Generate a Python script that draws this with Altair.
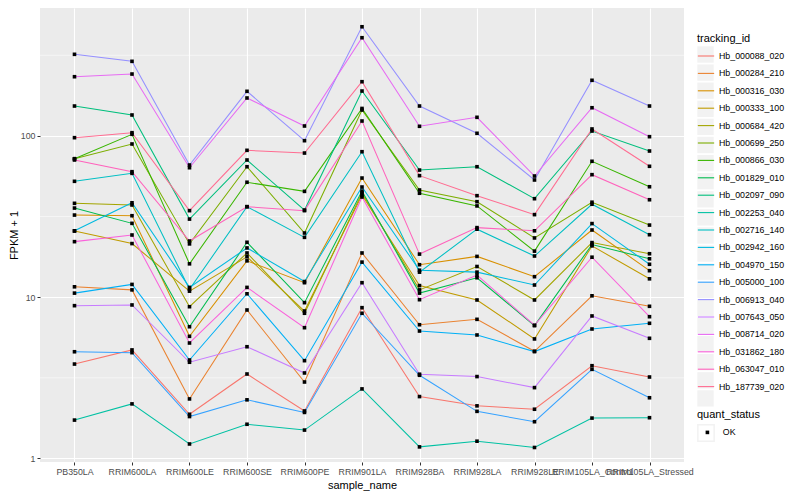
import altair as alt
import pandas as pd

samples = ["PB350LA", "RRIM600LA", "RRIM600LE", "RRIM600SE", "RRIM600PE",
           "RRIM901LA", "RRIM928BA", "RRIM928LA", "RRIM928LE",
           "RRIM105LA_Control", "RRIM105LA_Stressed"]

ids = ["Hb_000088_020", "Hb_000284_210", "Hb_000316_030", "Hb_000333_100",
       "Hb_000684_420", "Hb_000699_250", "Hb_000866_030", "Hb_001829_010",
       "Hb_002097_090", "Hb_002253_040", "Hb_002716_140", "Hb_002942_160",
       "Hb_004970_150", "Hb_005000_100", "Hb_006913_040", "Hb_007643_050",
       "Hb_008714_020", "Hb_031862_180", "Hb_063047_010", "Hb_187739_020"]

colors = ["#F8766D", "#EA8331", "#D89000", "#C09B00", "#A3A500", "#7CAE00",
          "#39B600", "#00BB4E", "#00BF7D", "#00C1A3", "#00BFC4", "#00BAE0",
          "#00B0F6", "#35A2FF", "#9590FF", "#C77CFF", "#E76BF3", "#FA62DB",
          "#FF62BC", "#FF6C91"]

# FPKM + 1 per sample (order of `samples`)
hb_000088_020 = [3.85, 4.71, 1.88, 3.34, 1.97, 8.61, 2.42, 2.12, 2.02, 3.76, 3.20]
hb_000284_210 = [11.6, 11.1, 2.34, 8.33, 2.98, 18.8, 6.75, 7.29, 4.62, 10.2, 8.78]
hb_000316_030 = [32.3, 32.0, 5.72, 16.8, 12.3, 54.8, 15.9, 17.9, 13.4, 26.1, 14.6]
hb_000333_100 = [25.7, 21.5, 10.9, 17.8, 8.21, 43.0, 11.8, 9.61, 5.51, 20.8, 13.0]
hb_000684_420 = [38.2, 37.3, 8.73, 18.8, 7.95, 44.3, 11.1, 15.5, 9.61, 21.8, 18.6]
hb_000699_250 = [72.2, 89.1, 21.4, 64.4, 25.0, 144.7, 46.2, 39.1, 23.3, 38.8, 28.0]
hb_000866_030 = [72.2, 102.3, 16.1, 51.6, 45.3, 148.0, 44.1, 36.8, 19.3, 69.6, 48.4]
hb_001829_010 = [35.7, 28.7, 6.56, 21.9, 9.25, 45.5, 10.6, 13.2, 6.66, 21.2, 17.3]
hb_002097_090 = [153.2, 134.8, 30.5, 70.9, 34.7, 189.8, 61.4, 64.4, 40.8, 107.2, 80.6]
hb_002253_040 = [1.73, 2.18, 1.23, 1.63, 1.50, 2.70, 1.18, 1.28, 1.17, 1.78, 1.79]
hb_002716_140 = [52.3, 58.6, 11.2, 36.4, 23.5, 79.8, 14.3, 26.4, 18.0, 37.7, 24.4]
hb_002942_160 = [25.8, 38.5, 11.5, 20.2, 12.5, 48.2, 14.7, 14.3, 11.9, 28.6, 16.0]
hb_004970_150 = [10.6, 12.0, 4.08, 10.5, 4.04, 16.5, 6.17, 5.83, 4.60, 6.35, 6.89]
hb_005000_100 = [4.59, 4.53, 1.82, 2.31, 1.93, 7.95, 3.28, 1.96, 1.69, 3.57, 2.38]
hb_006913_040 = [320.5, 290.0, 66.0, 189.0, 93.4, 475.0, 153.2, 103.8, 53.3, 221.2, 153.2]
hb_007643_050 = [8.86, 8.95, 3.95, 4.93, 3.39, 12.3, 3.33, 3.22, 2.75, 7.65, 5.56]
hb_008714_020 = [232.8, 241.9, 63.5, 171.8, 115.2, 406.2, 114.7, 130.4, 56.4, 149.5, 98.9]
hb_031862_180 = [22.1, 24.3, 5.20, 11.5, 6.47, 41.8, 9.65, 13.7, 6.70, 17.7, 7.57]
hb_063047_010 = [70.9, 60.0, 22.3, 36.4, 34.4, 123.7, 18.5, 27.0, 25.8, 57.5, 40.2]
hb_187739_020 = [97.5, 104.7, 34.4, 81.4, 78.3, 216.8, 56.7, 42.6, 32.5, 110.4, 64.8]

series = [hb_000088_020, hb_000284_210, hb_000316_030, hb_000333_100,
          hb_000684_420, hb_000699_250, hb_000866_030, hb_001829_010,
          hb_002097_090, hb_002253_040, hb_002716_140, hb_002942_160,
          hb_004970_150, hb_005000_100, hb_006913_040, hb_007643_050,
          hb_008714_020, hb_031862_180, hb_063047_010, hb_187739_020]

y_breaks = [1, 10, 100]
minor_breaks = [3.1623, 31.623, 316.23]

rows = []
for k, (tid, vals) in enumerate(zip(ids, series)):
    for s, v in zip(samples, vals):
        rows.append({"tracking_id": tid, "sample_name": s, "fpkm": v,
                     "quant_status": "OK", "order": k})
df = pd.DataFrame(rows)
minor_df = pd.DataFrame({"fpkm": minor_breaks})

FONT = "Liberation Sans"
KEY_BG = "#F2F2F2"
yscale = alt.Scale(type="log", domain=[0.951, 620.9], nice=False, zero=False)
xscale = alt.Scale(type="point", padding=0.6)

x_axis = alt.Axis(title="sample_name", labelAngle=0, labelOverlap=False,
                  grid=True, gridColor="white", gridWidth=1.1,
                  domain=False, ticks=True, tickColor="#333333",
                  tickSize=3, tickWidth=1, labelColor="#4D4D4D",
                  labelFontSize=8.8, labelPadding=2, titleFontSize=11,
                  titleFontWeight="normal", titleColor="black",
                  titlePadding=4)
y_axis = alt.Axis(title="FPKM + 1", values=y_breaks, grid=True,
                  gridColor="white", gridWidth=1.1, domain=False,
                  tickColor="#333333", tickSize=3, tickWidth=1,
                  labelColor="#4D4D4D", labelFontSize=8.8,
                  labelPadding=2, titleFontSize=11,
                  titleFontWeight="normal", titleColor="black",
                  titlePadding=1, format="d")

COMMON = dict(orient="none", legendX=657, labelFontSize=8.8, titleFontSize=11,
              titleFontWeight="normal", titlePadding=3, labelOffset=4)

x_enc = alt.X("sample_name:N", sort=samples, scale=xscale, axis=x_axis)
y_enc = alt.Y("fpkm:Q", scale=yscale, axis=y_axis)

minor = alt.Chart(minor_df).mark_rule(color="white", strokeWidth=0.55).encode(
    y=alt.Y("fpkm:Q", scale=yscale, axis=y_axis)
)

# grey key backgrounds of the tracking_id legend (invisible marks);
# reversed domain keeps this legend separate from the colour legend
keys = alt.Chart(df).mark_square(opacity=0, size=1).encode(
    x=x_enc, y=y_enc,
    fill=alt.Fill("tracking_id:N",
                  scale=alt.Scale(domain=ids[::-1], range=[KEY_BG] * len(ids)),
                  legend=alt.Legend(title=" ", labelExpr="''",
                                    symbolType="square", symbolSize=266,
                                    rowPadding=1.1, legendY=24,
                                    symbolStrokeWidth=0, symbolOpacity=1,
                                    zindex=0, **COMMON)),
)

# grey key background of the quant_status legend
keys2 = alt.Chart(df).mark_point(opacity=0, size=1).encode(
    x=x_enc, y=y_enc,
    stroke=alt.Stroke("quant_status:N", scale=alt.Scale(range=[KEY_BG]),
                      legend=alt.Legend(title=" ", labelExpr="''",
                                        symbolType="square", symbolSize=266,
                                        legendY=402, symbolFillColor=KEY_BG,
                                        symbolStrokeColor=KEY_BG,
                                        symbolOpacity=1, zindex=0, **COMMON)),
)

lines = alt.Chart(df).mark_line(strokeWidth=1.05).encode(
    x=x_enc, y=y_enc,
    color=alt.Color("tracking_id:N",
                    scale=alt.Scale(domain=ids, range=colors),
                    legend=alt.Legend(title="tracking_id", symbolType="stroke",
                                      symbolSize=266, symbolStrokeWidth=1.1,
                                      rowPadding=3.4, legendY=25,
                                      zindex=2, **COMMON)),
    order=alt.Order("order:Q"),
)

points = alt.Chart(df).mark_point(filled=True, shape="square", size=13,
                                  color="black", opacity=1).encode(
    x=x_enc, y=y_enc,
    shape=alt.Shape("quant_status:N",
                    scale=alt.Scale(domain=["OK"], range=["square"]),
                    legend=alt.Legend(title="quant_status", orient="none",
                                      legendX=657, legendY=401,
                                      symbolSize=13, symbolFillColor="black",
                                      symbolStrokeColor="black",
                                      symbolOffset=6, labelOffset=11,
                                      labelFontSize=8.8, titleFontSize=11,
                                      titleFontWeight="normal", titlePadding=8,
                                      zindex=2)),
)

chart = alt.layer(minor, keys, keys2, lines, points).properties(
    width=644, height=454,
    padding={"left": 32, "top": 0, "right": 108, "bottom": 30},
    autosize=alt.AutoSizeParams(type="none"),
    background="white",
).configure(font=FONT).configure_view(
    fill="#EBEBEB", stroke=None
).configure_legend(labelFont=FONT, titleFont=FONT, labelColor="black",
                   titleColor="black")

chart.save("out.html", embed_options={"renderer": "svg", "actions": False})
